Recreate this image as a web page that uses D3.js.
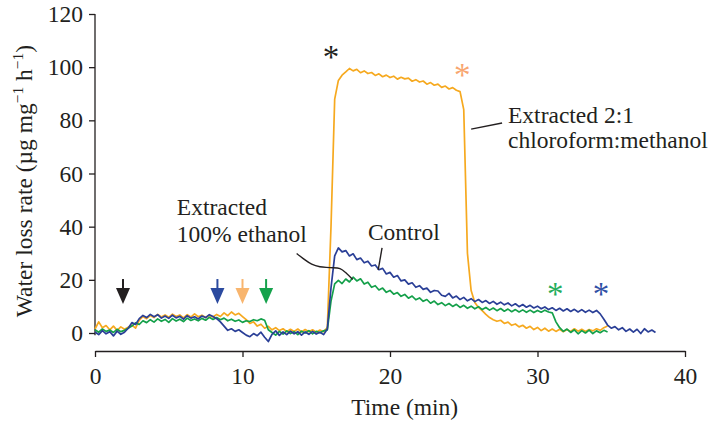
<!DOCTYPE html>
<html>
<head>
<meta charset="utf-8">
<script src="https://cdn.jsdelivr.net/npm/d3@7"></script>
<style>
	body { margin: 0; background: #fff; }
	svg text { font-family: "Liberation Serif", "Times New Roman", serif; fill: #231f20; }
</style>
</head>
<body>
<div id="graphic"></div>
<script>
// sampled every 0.25 min, starting at t = 0
const sampleStep = 0.25;

const controlRate = [
	0.4, -0.6, 0.9, -0.3, 0.5, -1.1, 0.7, -0.5, 0.3,
	1.8, 3.9, 3.2, 5.4,
	6.6, 5.8, 7.0, 6.1, 6.9, 5.6, 6.4, 5.5, 6.7, 5.7, 6.3, 5.2, 6.5, 5.6, 6.1, 5.3, 6.4, 5.8, 6.9, 6.2,
	5.4, 4.2, 2.6, 1.0, 1.6, 0.6, 1.2, 0.2, -0.8, -1.4, -0.2, -1.0, 0.3, -1.6, -3.2, -0.5,
	0.8, -0.9, 0.4, -0.6, 0.7, -0.3, 0.5, -0.8, 0.4, -0.5, 0.6, -0.4, 0.3, -0.6, 1.5,
	17, 29,
	32, 30.5, 31, 29, 29.8, 27.6, 28.2, 26.4,
	27, 25.2, 25.6, 23.8, 24.3, 22.2, 22.8, 21,
	21.6, 19.6, 20, 18.4, 18.9, 17.2, 17.8, 16.4,
	16.9, 15.3, 16, 15.8, 14.2, 13.8, 14.9, 13.2,
	13.9, 12.6, 13.4, 12.1, 12.9, 11.8, 12.6, 11.5,
	12.2, 11.1, 11.9, 10.8, 11.6, 10.6, 11.3, 10.2,
	11, 9.9, 10.7, 9.7, 10.4, 9.4, 10.1, 9.1,
	9.8, 8.8, 9.5, 8.5, 9.3, 8.3, 9.1, 8.1,
	8.9, 7.9, 8.8, 7.8, 8.6, 7.7, 8.5, 7.2,
	5.2, 3, 1.8, 2.4, 1.2, 2, 0.6, 1.5,
	0.3, 1.4, -0.2, 1.6, 0.4, 1.1, 0.2
];

const ethanolRate = [
	1.2, 0.3, 1.5, 0.6, 1.1, 0.2, 1.4, 0.5, 1.0,
	1.8, 2.6, 3.8, 3.2,
	4.6, 3.9, 5.0, 4.1, 5.3, 4.4, 5.1, 4.0,
	5.4, 4.5, 5.2, 4.3, 5.6, 4.7, 5.3, 4.6,
	5.5, 4.8, 5.9, 5.1, 5.8, 5.0, 5.6, 4.6,
	5.2, 4.4, 4.9, 4.0, 4.6, 4.3, 5.0, 4.6,
	5.3, 4.8, 1.2, 0.2, -0.8, 0.6, -0.4, 0.8,
	-0.2, 0.5, -0.6, 0.7, 0.0, 0.9, -0.3, 0.6,
	0.1, 0.8, 1.2, 12, 18.5, 19.8, 18.6, 20.3,
	19.2, 21, 19.6, 20.4, 18.4, 19.1, 17.2, 17.8,
	16.2, 16.9, 15.3, 16, 14.6, 15.2, 13.8, 14.5,
	13.1, 13.9, 12.5, 13.2, 11.9, 12.6, 11.2, 12,
	10.7, 11.4, 10.3, 11.1, 10, 10.8, 9.6, 10.4,
	9.3, 10.1, 9.1, 9.9, 8.8, 9.6, 8.6, 9.4,
	8.4, 9.2, 8.2, 9, 8.0, 8.8, 7.9, 8.7,
	7.8, 8.6, 7.7, 8.5, 7.8, 8.6, 7.9, 7.6,
	4.2, 2.0, 0.6, 1.5, 0.2, 1.2, -0.3, 0.9,
	0.0, 1.1, -0.2, 0.8, 0.1, 1.0, 0.4
];

const chloroformRate = [
	1.5, 4.2, 2.0, 2.8, 1.2, 2.6, 1.0, 2.3, 1.4,
	2.2, 3.0, 1.8, 4.8,
	6.2, 5.4, 6.6, 5.8, 7.0, 6.0, 6.8, 5.9,
	7.1, 6.2, 6.8, 5.7, 6.9, 6.0, 7.2, 6.1,
	6.7, 5.8, 6.6, 6.0, 7.0, 6.2, 7.6, 6.5,
	7.9, 6.8, 7.4, 6.2, 5.0, 3.6, 4.2, 2.6,
	3.3, 1.8, 2.5, 1.2, 2.0, 0.9, 1.6, 0.5,
	1.4, 0.6, 1.5, 0.4, 1.3, 0.5, 1.2, 0.3,
	1.1, 0.5, 2.0, 40, 88, 95, 97, 98.2,
	99.5, 98.6, 99.2, 97.9, 98.6, 97.6, 98.0, 96.9,
	97.5, 96.4, 97.0, 96.1, 96.6, 95.5, 96.2, 95.6,
	95.9, 94.7, 95.3, 94.4, 94.8, 93.6, 94.2, 93.2,
	93.6, 92.4, 92.9, 91.8, 92.3, 91.3, 90.8, 84,
	30, 16, 11.5, 9.6, 8.4, 7.0, 5.8, 5.0,
	4.4, 4.8, 3.6, 4.1, 2.9, 3.4, 2.3, 2.9,
	1.8, 2.5, 1.3, 2.1, 0.9, 1.8, 0.7, 1.5,
	0.6, 1.4, 0.5, 1.3, 0.6, 1.6, 0.7, 1.4,
	0.6, 1.3, 0.8, 1.6, 1.0, 2.0, 2.6
];

const xTicks = [0, 10, 20, 30, 40];
const yTicks = [0, 20, 40, 60, 80, 100, 120];

// treatment arrows (min) and asterisks
const arrowTimes = [1.9, 8.3, 10.0, 11.6];
const arrowColours = ['#231f20', '#2b4a9f', '#f8b56e', '#15a24c'];
const starTimes = [16.0, 24.9, 31.2, 34.3];
const starValues = [105.5, 98.5, 16, 16];
const starColours = ['#231f20', '#f8a670', '#25ad5c', '#3151a6'];

const colours = { control: '#2a3f97', ethanol: '#14a04a', chloroform: '#f6a91f' };

const width = 712, height = 423;
const margin = { top: 14, right: 27, bottom: 90, left: 95 };
const fontSize = '23.5px';

const svg = d3.select('#graphic').append('svg')
	.attr('width', width)
	.attr('height', height);

const x = d3.scaleLinear().domain([0, 40]).range([margin.left, width - margin.right]);
const y = d3.scaleLinear().domain([0, 120]).range([height - margin.bottom, margin.top]);

// axes
const yAxis = svg.append('g')
	.attr('transform', `translate(${margin.left},0)`)
	.call(d3.axisLeft(y).tickValues(yTicks).tickSize(6).tickSizeOuter(0).tickPadding(6));

yAxis.select('.domain').attr('d', `M0,${y(120)}V${y(-0.8)}`);

const xAxis = svg.append('g')
	.attr('transform', `translate(0,${height - margin.bottom + 18})`)
	.call(d3.axisBottom(x).tickValues(xTicks).tickSize(6).tickSizeOuter(0).tickPadding(10));

[xAxis, yAxis].forEach(a => {
	a.selectAll('path, line').attr('stroke', '#231f20').attr('stroke-width', 1.3);
	a.selectAll('text').style('font-size', fontSize).attr('fill', '#231f20');
});

svg.append('text')
	.attr('x', x(21))
	.attr('y', 415)
	.attr('text-anchor', 'middle')
	.style('font-size', fontSize)
	.text('Time (min)');

const yTitle = svg.append('text')
	.attr('transform', 'translate(32,181) rotate(-90)')
	.attr('text-anchor', 'middle')
	.style('font-size', fontSize);
yTitle.append('tspan').text('Water loss rate (µg mg');
yTitle.append('tspan').attr('dy', -9).style('font-size', '15.5px').text('−1');
yTitle.append('tspan').attr('dy', 9).text(' h');
yTitle.append('tspan').attr('dy', -9).style('font-size', '15.5px').text('−1');
yTitle.append('tspan').attr('dy', 9).text(')');

// traces
const series = [
	{ key: 'chloroform', values: chloroformRate },
	{ key: 'ethanol', values: ethanolRate },
	{ key: 'control', values: controlRate }
];

const line = d3.line()
	.x((d, i) => x(i * sampleStep))
	.y(d => y(d));

svg.append('g')
	.selectAll('path')
	.data(series)
	.join('path')
	.attr('fill', 'none')
	.attr('stroke', d => colours[d.key])
	.attr('stroke-width', 1.7)
	.attr('stroke-linejoin', 'round')
	.attr('d', d => line(d.values));

// arrows
const arrows = svg.append('g')
	.selectAll('g')
	.data(d3.zip(arrowTimes, arrowColours))
	.join('g')
	.attr('transform', d => `translate(${x(d[0])},0)`);

arrows.append('line')
	.attr('y1', y(20.3)).attr('y2', y(16.5))
	.attr('stroke', d => d[1]).attr('stroke-width', 2);

arrows.append('path')
	.attr('d', `M-7,${y(16.9)}L7,${y(16.9)}L0,${y(10.9)}Z`)
	.attr('fill', d => d[1]);

// asterisks
svg.append('g')
	.selectAll('text')
	.data(d3.zip(starTimes, starValues, starColours))
	.join('text')
	.attr('x', d => x(d[0]))
	.attr('y', d => y(d[1]) + 15)
	.attr('text-anchor', 'middle')
	.style('font-size', '33px')
	.style('fill', d => d[2])
	.text('*');

// annotations
const labels = [
	{ t: 28.0, v: 79.0, text: 'Extracted 2:1' },
	{ t: 28.0, v: 69.6, text: 'chloroform:methanol' },
	{ t: 5.55, v: 44.4, text: 'Extracted' },
	{ t: 5.55, v: 34.2, text: '100% ethanol' },
	{ t: 18.5, v: 35.0, text: 'Control' }
];

svg.append('g')
	.selectAll('text')
	.data(labels)
	.join('text')
	.attr('x', d => x(d.t))
	.attr('y', d => y(d.v))
	.style('font-size', fontSize)
	.text(d => d.text);

const leaderLine = d3.line().x(d => x(d[0])).y(d => y(d[1])).curve(d3.curveCatmullRom);

const leaders = [
	[[25.5, 76.7], [27.6, 79.0]],
	[[19.46, 32.0], [19.2, 23.7]],
	[[13.67, 29.9], [14.12, 28.0], [14.69, 25.9], [15.25, 24.9], [15.93, 24.6], [16.61, 24.2], [17.06, 22.4], [17.47, 20.1]]
];

svg.append('g')
	.selectAll('path')
	.data(leaders)
	.join('path')
	.attr('fill', 'none')
	.attr('stroke', '#231f20')
	.attr('stroke-width', 1.4)
	.attr('d', leaderLine);
</script>
</body>
</html>
